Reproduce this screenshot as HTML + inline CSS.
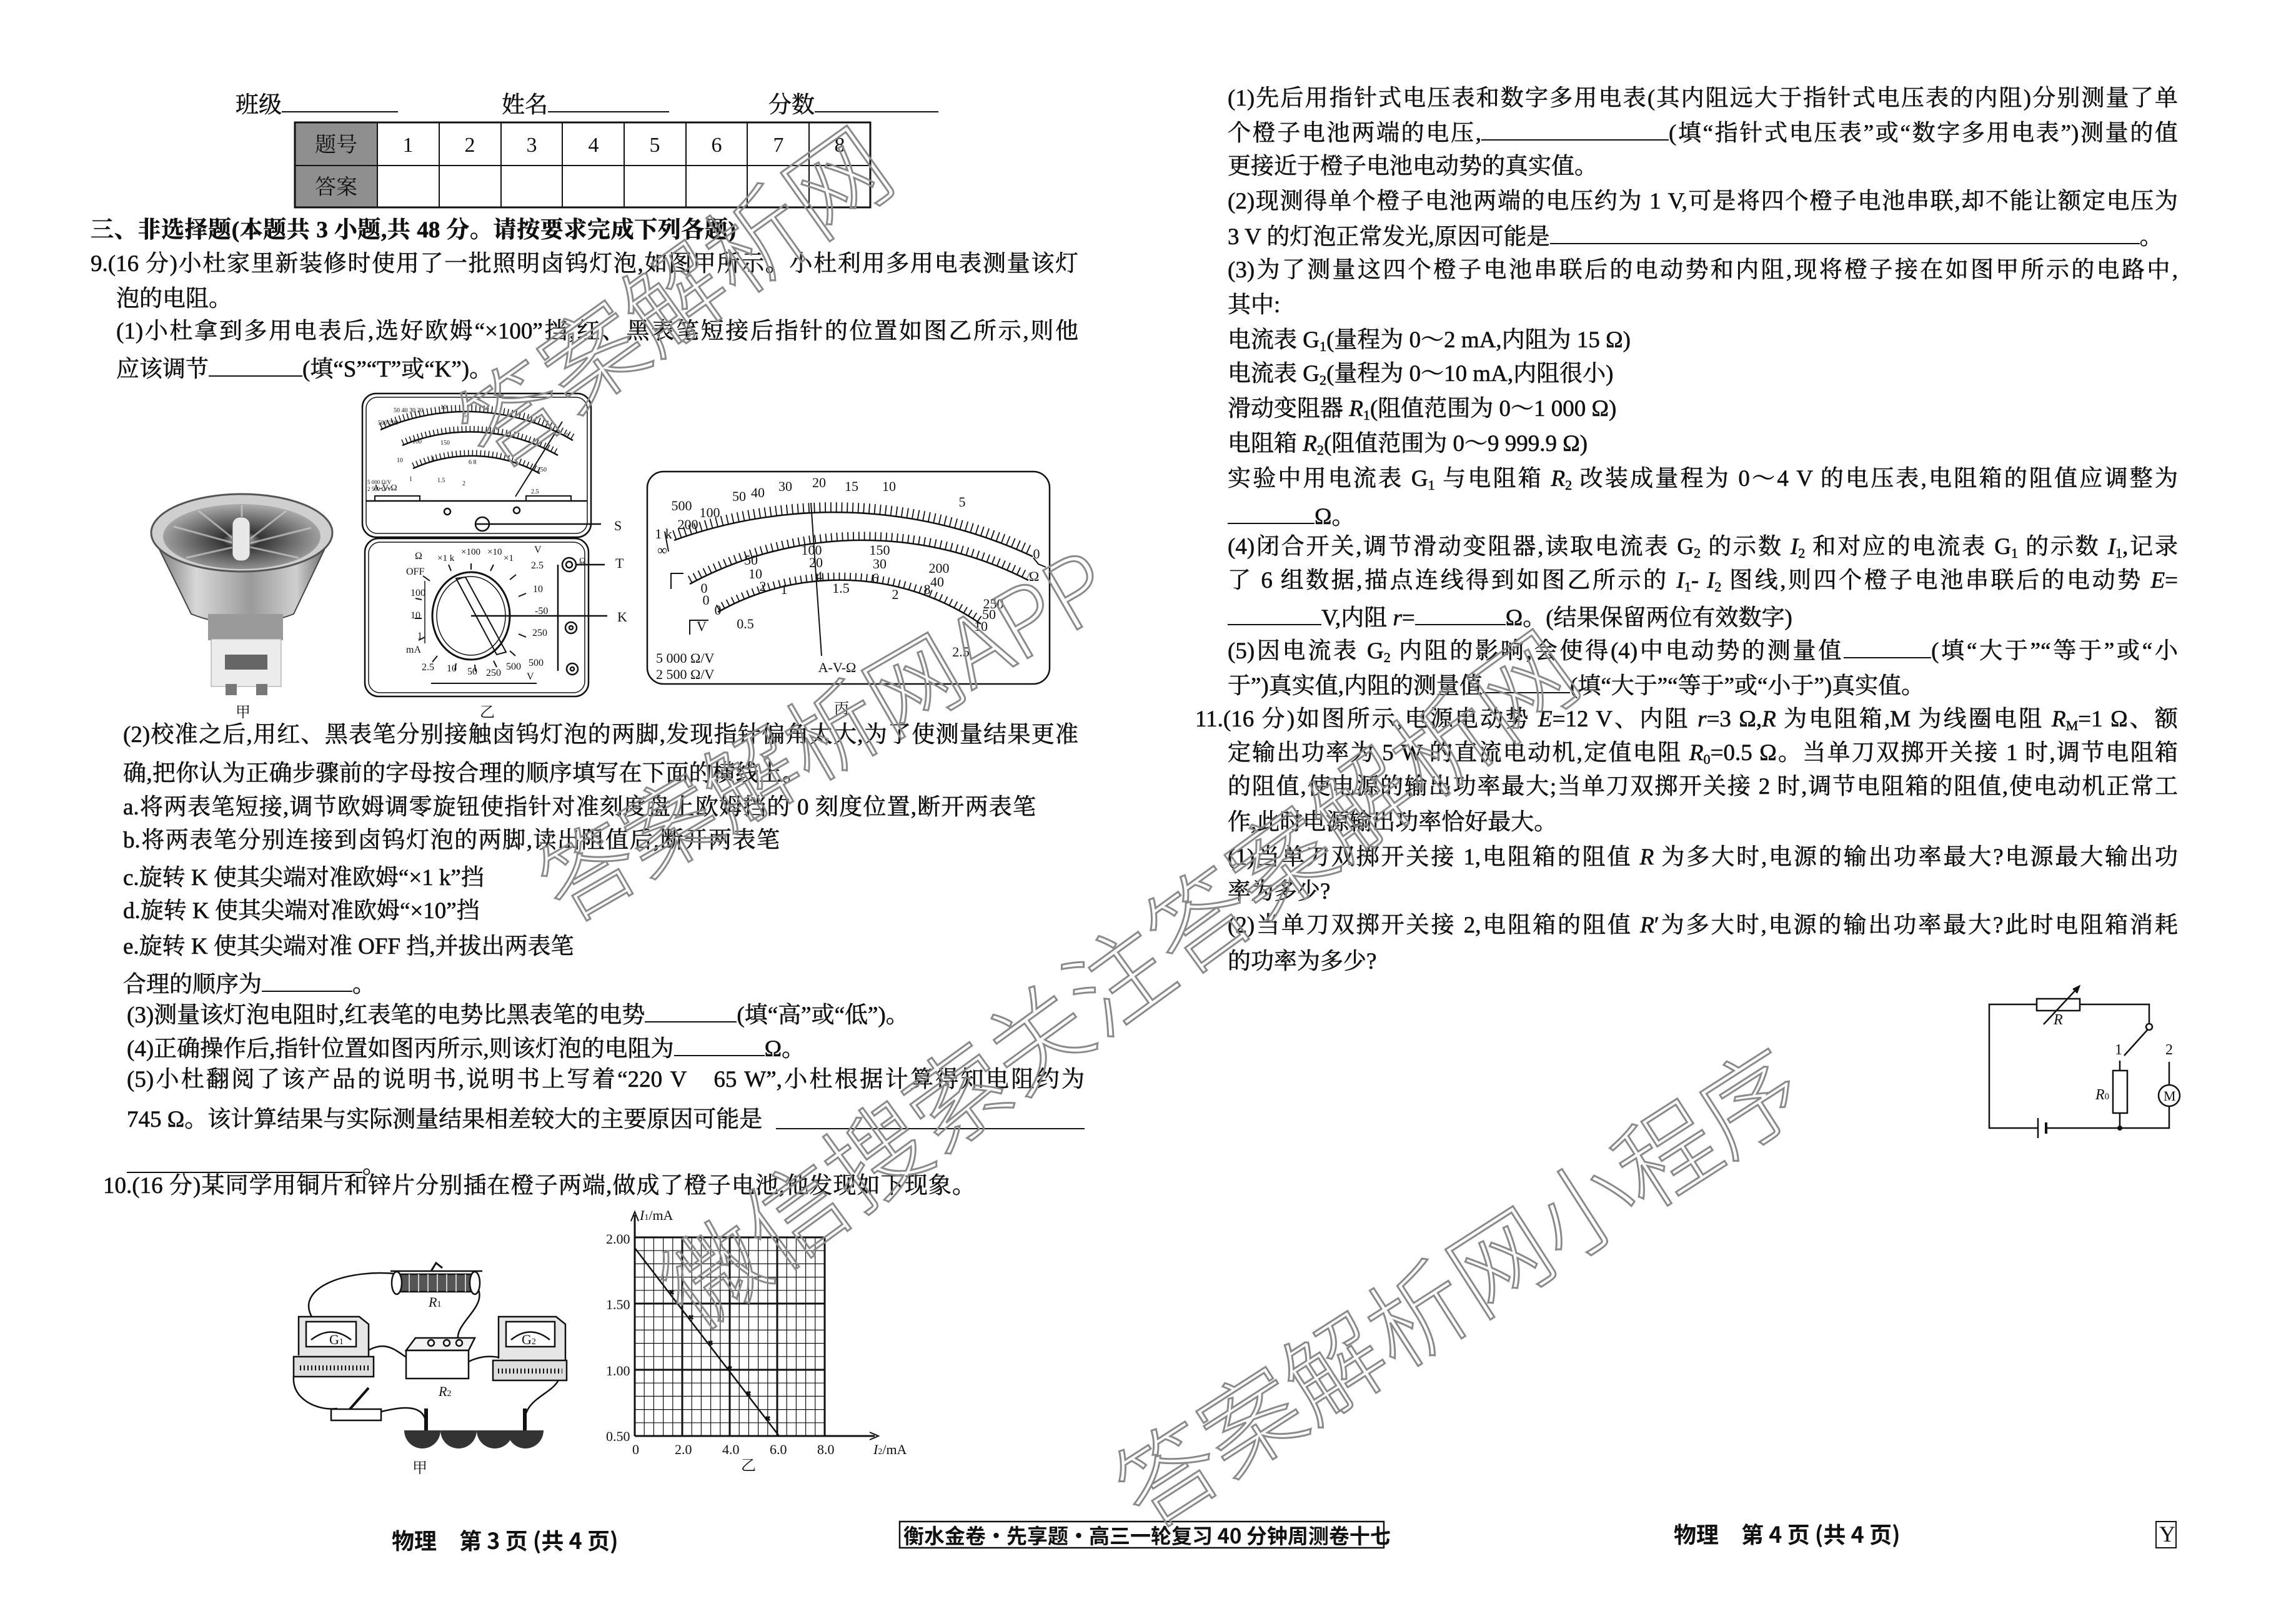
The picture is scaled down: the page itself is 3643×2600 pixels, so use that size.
<!DOCTYPE html>
<html><head><meta charset="utf-8">
<style>
body{margin:0;background:#fff;}
#p{position:relative;width:3643px;height:2600px;overflow:hidden;background:#fff;font-family:"Liberation Serif","Noto Serif CJK SC",serif;color:#111;}
.l{position:absolute;white-space:nowrap;font-size:37px;line-height:56px;height:56px;-webkit-text-stroke:0.6px #111;}
.j{text-align:justify;text-align-last:justify;white-space:normal;overflow:hidden;}
.b{display:inline-block;border-bottom:2px solid #111;height:40px;vertical-align:baseline;}
i{font-style:italic;}
sub{font-size:60%;vertical-align:-6px;line-height:0;}
.wm{position:absolute;white-space:nowrap;font-family:"Noto Sans CJK SC",sans-serif;font-weight:300;color:rgba(0,0,0,0);-webkit-text-stroke:3px #8a8a8a;line-height:1;}
.ft{position:absolute;font-family:"Noto Sans CJK SC",sans-serif;font-weight:bold;font-size:36px;line-height:44px;white-space:nowrap;}
svg text{font-family:"Liberation Serif","Noto Serif CJK SC",serif;fill:#111;}
</style></head><body><div id="p">

<div class="l" style="left:377px;top:138px;">班级<span class="b" style="width:186px"></span></div>
<div class="l" style="left:803px;top:138px;">姓名<span class="b" style="width:194px"></span></div>
<div class="l" style="left:1230px;top:138px;">分数<span class="b" style="width:198px"></span></div>

<svg style="position:absolute;left:0;top:0" width="3643" height="2600">
<rect x="472" y="196" width="132" height="136" fill="#8f8f8f"/>
<rect x="472" y="196" width="921" height="136" fill="none" stroke="#111" stroke-width="3"/>
<line x1="472" y1="265" x2="1393" y2="265" stroke="#111" stroke-width="2"/>
<g stroke="#111" stroke-width="2">
<line x1="604" y1="196" x2="604" y2="332"/><line x1="703" y1="196" x2="703" y2="332"/><line x1="802" y1="196" x2="802" y2="332"/><line x1="900" y1="196" x2="900" y2="332"/><line x1="999" y1="196" x2="999" y2="332"/><line x1="1098" y1="196" x2="1098" y2="332"/><line x1="1196" y1="196" x2="1196" y2="332"/><line x1="1295" y1="196" x2="1295" y2="332"/>
</g>
<g font-size="34" text-anchor="middle">
<text x="538" y="243">题号</text><text x="538" y="311">答案</text>
<text x="653" y="243">1</text><text x="752" y="243">2</text><text x="851" y="243">3</text><text x="950" y="243">4</text><text x="1048" y="243">5</text><text x="1147" y="243">6</text><text x="1246" y="243">7</text><text x="1344" y="243">8</text>
</g>

<defs>
<linearGradient id="lg" x1="0" x2="1"><stop offset="0" stop-color="#6a6a6a"/><stop offset="0.25" stop-color="#d8d8d8"/><stop offset="0.55" stop-color="#9a9a9a"/><stop offset="0.8" stop-color="#cfcfcf"/><stop offset="1" stop-color="#555"/></linearGradient>
<radialGradient id="rg" cx="0.5" cy="0.55" r="0.6"><stop offset="0" stop-color="#ddd"/><stop offset="0.2" stop-color="#333"/><stop offset="0.6" stop-color="#777"/><stop offset="1" stop-color="#bbb"/></radialGradient>
</defs>
<g transform="translate(238,783)">
<path d="M4,70 L68,200 Q150,232 232,200 L294,70 Z" fill="url(#lg)" stroke="#444" stroke-width="2"/>
<ellipse cx="149" cy="70" rx="145" ry="62" fill="#cfcfcf" stroke="#555" stroke-width="3"/>
<ellipse cx="149" cy="76" rx="126" ry="52" fill="url(#rg)"/>
<g stroke="#ccc" stroke-width="3" opacity="0.7">
<line x1="149" y1="90" x2="40" y2="60"/><line x1="149" y1="90" x2="80" y2="35"/><line x1="149" y1="90" x2="149" y2="26"/><line x1="149" y1="90" x2="220" y2="35"/><line x1="149" y1="90" x2="260" y2="62"/><line x1="149" y1="90" x2="60" y2="110"/><line x1="149" y1="90" x2="240" y2="110"/>
</g>
<rect x="134" y="45" width="28" height="70" rx="12" fill="#e8e8e8" stroke="#666"/>
<rect x="95" y="200" width="120" height="42" fill="#9a9a9a"/>
<rect x="100" y="240" width="112" height="76" fill="#ececec" stroke="#999"/>
<rect x="122" y="265" width="68" height="24" fill="#666"/>
<rect x="123" y="312" width="18" height="18" fill="#777"/><rect x="172" y="312" width="18" height="18" fill="#777"/>
</g>

<g transform="translate(580,630)" fill="none" stroke="#111" stroke-width="2.5">
<rect x="0" y="0" width="366" height="230" rx="22"/>
<rect x="6" y="6" width="354" height="218" rx="18" stroke-width="1.5"/>
<rect x="4" y="232" width="358" height="253" rx="22"/>
<rect x="10" y="238" width="346" height="241" rx="18" stroke-width="1.5"/>
<path d="M29,58 A339,339 0 0 1 337,75"/>
<path d="M29,52 A339,339 0 0 1 337,69" stroke-width="10" stroke-dasharray="1.5 5"/>
<path d="M64,83 A282,282 0 0 1 313,99"/>
<path d="M64,78 A282,282 0 0 1 313,94" stroke-width="9" stroke-dasharray="1.5 5"/>
<path d="M81,120 A227,227 0 0 1 284,128"/>
<path d="M81,115 A227,227 0 0 1 284,123" stroke-width="9" stroke-dasharray="1.5 5"/>
<line x1="245" y1="165" x2="320" y2="45" stroke-width="2"/>
<line x1="6" y1="172" x2="360" y2="172"/>
<rect x="20" y="164" width="72" height="8" stroke-width="2"/><rect x="262" y="164" width="72" height="8" stroke-width="2"/>
<circle cx="136" cy="189" r="5"/><circle cx="247" cy="187" r="5"/>
<ellipse cx="192" cy="209" rx="11" ry="11"/><line x1="180" y1="209" x2="382" y2="209"/>
<ellipse cx="174" cy="356" rx="62" ry="70" stroke-width="3"/>
<ellipse cx="174" cy="356" rx="55" ry="63" stroke-width="1.5"/>
<path d="M150,296 L165,294 L230,414 L215,418 Z" stroke-width="2"/>
<line x1="174" y1="356" x2="392" y2="356"/>
<g stroke-width="2">
<line x1="108" y1="300" x2="97" y2="292"/><line x1="95" y1="330" x2="85" y2="328"/><line x1="95" y1="360" x2="84" y2="360"/><line x1="100" y1="390" x2="90" y2="395"/>
<line x1="120" y1="420" x2="112" y2="430"/><line x1="150" y1="432" x2="148" y2="443"/><line x1="180" y1="434" x2="181" y2="445"/><line x1="210" y1="428" x2="215" y2="438"/><line x1="236" y1="412" x2="245" y2="420"/>
<line x1="250" y1="385" x2="262" y2="390"/><line x1="256" y1="356" x2="268" y2="356"/><line x1="250" y1="325" x2="262" y2="320"/><line x1="236" y1="298" x2="246" y2="290"/>
<line x1="205" y1="284" x2="210" y2="274"/><line x1="174" y1="282" x2="174" y2="272"/><line x1="142" y1="284" x2="138" y2="274"/>
</g>
<line x1="313" y1="274" x2="313" y2="444"/>
<circle cx="331" cy="274" r="11"/><circle cx="331" cy="274" r="5"/><line x1="342" y1="274" x2="388" y2="274"/>
<circle cx="334" cy="375" r="9"/><circle cx="334" cy="375" r="3"/>
<circle cx="336" cy="441" r="9"/><circle cx="336" cy="441" r="3"/>
<line x1="100" y1="300" x2="100" y2="400" stroke-width="1.5"/>
<line x1="110" y1="464" x2="279" y2="464" stroke-width="2"/>
</g>
<g font-size="14">
<text x="597" y="785">A-V-Ω</text>
<text x="588" y="775" font-size="9">5 000 Ω/V</text><text x="588" y="786" font-size="9">2 500 Ω/V</text>
<text x="605" y="680" font-size="10">500 200</text><text x="630" y="660" font-size="10">50 40 30 20</text><text x="705" y="655" font-size="10">10</text><text x="742" y="668" font-size="10">5</text><text x="905" y="700" font-size="10">0</text>
<text x="660" y="710" font-size="10">100</text><text x="705" y="712" font-size="10">150</text><text x="635" y="740" font-size="10">10</text><text x="690" y="738" font-size="10">4</text><text x="750" y="743" font-size="10">6 8</text>
<text x="655" y="770" font-size="10">1</text><text x="700" y="772" font-size="10">1.5</text><text x="740" y="777" font-size="10">2</text><text x="860" y="755" font-size="10">250</text><text x="850" y="790" font-size="10">2.5</text>
<text x="983" y="849" font-size="22">S</text><text x="985" y="909" font-size="22">T</text><text x="988" y="995" font-size="22">K</text>
<text x="664" y="895" font-size="16">Ω</text><text x="650" y="920" font-size="16">OFF</text>
<text x="700" y="898" font-size="15">×1 k</text><text x="738" y="888" font-size="15">×100</text><text x="780" y="888" font-size="15">×10</text><text x="806" y="898" font-size="15">×1</text>
<text x="855" y="885" font-size="16">V</text><text x="850" y="910" font-size="16">2.5</text>
<text x="853" y="948" font-size="16">10</text><text x="856" y="983" font-size="16">-50</text><text x="852" y="1018" font-size="16">250</text><text x="846" y="1066" font-size="16">500</text>
<text x="657" y="954" font-size="16">100</text><text x="657" y="990" font-size="16">10</text><text x="668" y="1023" font-size="16">1</text><text x="650" y="1045" font-size="16">mA</text>
<text x="675" y="1073" font-size="16">2.5</text><text x="715" y="1075" font-size="16">10</text><text x="748" y="1080" font-size="16">50</text><text x="778" y="1082" font-size="16">250</text><text x="810" y="1072" font-size="16">500</text><text x="843" y="1088" font-size="16">V</text>
<text x="927" y="902" font-size="14">Ω</text>
</g>

<g transform="translate(1034,753)" fill="none" stroke="#111" stroke-width="2.5">
<rect x="2" y="2" width="644" height="340" rx="26"/>
<path d="M45,112 A751,751 0 0 1 619,138"/>
<path d="M45,104 A751,751 0 0 1 619,130" stroke-width="16" stroke-dasharray="1.8 7"/>
<path d="M70,182 A581,581 0 0 1 612,176"/>
<path d="M70,175 A581,581 0 0 1 612,169" stroke-width="13" stroke-dasharray="1.8 7"/>
<path d="M115,227 A397,397 0 0 1 536,246"/>
<path d="M115,221 A397,397 0 0 1 536,240" stroke-width="12" stroke-dasharray="1.8 7"/>
<line x1="281" y1="297" x2="264" y2="52" stroke-width="2"/>
<path d="M36,130 L30,98 M620,140 L628,150 L640,155" stroke-width="2"/>
<path d="M40,190 L40,165 L60,165 M70,263 L70,240 L100,240" stroke-width="2"/>
</g>
<g font-size="22" text-anchor="middle">
<text x="1091" y="817">500</text><text x="1136" y="828">100</text><text x="1101" y="847">200</text><text x="1062" y="862">1 k</text><text x="1060" y="888">∞</text>
<text x="1183" y="802">50</text><text x="1213" y="796">40</text><text x="1257" y="786">30</text><text x="1311" y="780">20</text><text x="1363" y="786">15</text><text x="1423" y="786">10</text><text x="1540" y="811">5</text><text x="1659" y="894">0</text><text x="1655" y="930">Ω</text>
<text x="1202" y="904">50</text><text x="1209" y="926">10</text><text x="1299" y="888">100</text><text x="1306" y="908">20</text><text x="1311" y="930">4</text>
<text x="1408" y="888">150</text><text x="1408" y="910">30</text><text x="1401" y="933">6</text><text x="1503" y="917">200</text><text x="1500" y="939">40</text><text x="1484" y="951">8</text>
<text x="1590" y="974">250</text><text x="1583" y="991">50</text><text x="1570" y="1010">10</text><text x="1538" y="1051">2.5</text>
<text x="1127" y="949">0</text><text x="1130" y="968">0</text><text x="1149" y="984">0</text><text x="1221" y="946">2</text><text x="1193" y="1006">0.5</text><text x="1255" y="951">1</text><text x="1346" y="949">1.5</text><text x="1433" y="959">2</text>
<text x="1123" y="1010">V</text>
<text x="1340" y="1076">A-V-Ω</text>
</g>
<g font-size="22"><text x="1050" y="1061">5 000 Ω/V</text><text x="1050" y="1087">2 500 Ω/V</text></g>
<g font-size="24" text-anchor="middle"><text x="389" y="1148">甲</text><text x="780" y="1148">乙</text><text x="1347" y="1142">丙</text></g>

<g fill="none" stroke="#111" stroke-width="2.5">
<path d="M500,2110 C470,2060 560,2030 640,2040"/>
<path d="M760,2055 C790,2090 720,2120 735,2150"/>
<path d="M585,2165 C620,2140 640,2170 655,2175"/>
<path d="M750,2180 C770,2170 790,2170 805,2175"/>
<path d="M478,2180 C450,2230 500,2260 540,2255"/>
<path d="M610,2260 C650,2250 680,2250 682,2280"/>
<path d="M895,2185 C910,2230 840,2230 840,2275"/>
<rect x="635" y="2040" width="125" height="28" fill="#555"/>
<path d="M640,2040 L640,2068 M655,2040 L655,2068 M670,2040 L670,2068 M685,2040 L685,2068 M700,2040 L700,2068 M715,2040 L715,2068 M730,2040 L730,2068 M745,2040 L745,2068" stroke="#ccc" stroke-width="2"/>
<line x1="625" y1="2035" x2="772" y2="2035"/>
<path d="M690,2035 L698,2022 L708,2030" stroke-width="3"/>
<ellipse cx="635" cy="2054" rx="8" ry="18" fill="#fff"/><ellipse cx="760" cy="2054" rx="8" ry="18" fill="#fff"/>
<path d="M478,2170 L478,2108 L575,2108 L590,2120 L590,2180" fill="#e6e6e6"/>
<rect x="490" y="2116" width="80" height="40" fill="#fff"/><path d="M498,2145 Q530,2120 562,2145"/>
<rect x="470" y="2172" width="128" height="32" fill="#ddd"/>
<path d="M480,2190 L590,2190" stroke-dasharray="2 4" stroke-width="8"/>
<path d="M798,2175 L798,2108 L890,2108 L905,2120 L905,2185" fill="#e6e6e6"/>
<rect x="810" y="2116" width="78" height="40" fill="#fff"/><path d="M818,2145 Q849,2120 880,2145"/>
<rect x="789" y="2178" width="118" height="32" fill="#ddd"/>
<path d="M797,2195 L900,2195" stroke-dasharray="2 4" stroke-width="8"/>
<path d="M650,2162 L665,2142 L760,2142 L750,2162 Z" fill="#f2f2f2"/>
<rect x="650" y="2162" width="100" height="45" fill="#fff"/>
<circle cx="690" cy="2150" r="5" fill="#fff"/><circle cx="715" cy="2150" r="5" fill="#fff"/><circle cx="735" cy="2150" r="5" fill="#fff"/>
<rect x="530" y="2256" width="80" height="18" fill="#fff"/>
<line x1="560" y1="2256" x2="590" y2="2222" stroke-width="4"/>
<line x1="682" y1="2255" x2="682" y2="2290" stroke-width="6"/><line x1="840" y1="2255" x2="840" y2="2290" stroke-width="6"/>
</g>
<g fill="#333">
<path d="M647,2290 A29,29 0 0 0 705,2290 Z"/><path d="M705,2290 A29,29 0 0 0 763,2290 Z"/><path d="M763,2290 A29,29 0 0 0 821,2290 Z"/><path d="M812,2290 A29,29 0 0 0 870,2290 Z"/>
</g>
<g font-size="22"><text x="686" y="2092"><tspan font-style="italic">R</tspan><tspan font-size="14">1</tspan></text>
<text x="527" y="2152">G<tspan font-size="14">1</tspan></text><text x="835" y="2152">G<tspan font-size="14">2</tspan></text>
<text x="702" y="2235"><tspan font-style="italic">R</tspan><tspan font-size="14">2</tspan></text>
<text x="660" y="2358" font-size="24">甲</text></g>

<g stroke="#111">
<g stroke-width="1.2">
<path d="M1031.2,1981V2299M1046.4,1981V2299M1061.6,1981V2299M1076.8,1981V2299M1107.2,1981V2299M1122.4,1981V2299M1137.6,1981V2299M1152.8,1981V2299M1183.2,1981V2299M1198.4,1981V2299M1213.6,1981V2299M1228.8,1981V2299M1259.2,1981V2299M1274.4,1981V2299M1289.6,1981V2299M1304.8,1981V2299"/>
<path d="M1016,2002.2H1320M1016,2023.4H1320M1016,2044.6H1320M1016,2065.8H1320M1016,2108.2H1320M1016,2129.4H1320M1016,2150.6H1320M1016,2171.8H1320M1016,2214.2H1320M1016,2235.4H1320M1016,2256.6H1320M1016,2277.8H1320"/>
</g>
<g stroke-width="3">
<path d="M1092,1981V2299M1168,1981V2299M1244,1981V2299M1320,1981V2299"/>
<path d="M1016,1981H1320M1016,2087H1320M1016,2193H1320M1016,2299H1400"/>
<path d="M1016,2299V1945"/>
</g>
<path d="M1016,1998 L1247,2299" stroke-width="2.5"/>
<path d="M1010,1955 L1016,1940 L1022,1955 M1392,2293 L1406,2299 L1392,2305" fill="none" stroke-width="2"/>
<g stroke-width="3">
<path d="M1072,2066l6,6m0,-6l-6,6 M1103,2106l6,6m0,-6l-6,6 M1134,2147l6,6m0,-6l-6,6 M1165,2188l6,6m0,-6l-6,6 M1195,2228l6,6m0,-6l-6,6 M1226,2268l6,6m0,-6l-6,6"/>
</g>
</g>
<g font-size="22">
<text x="970" y="1991">2.00</text><text x="970" y="2096">1.50</text><text x="970" y="2202">1.00</text><text x="970" y="2307">0.50</text>
<text x="1012" y="2328">0</text><text x="1080" y="2328">2.0</text><text x="1156" y="2328">4.0</text><text x="1232" y="2328">6.0</text><text x="1308" y="2328">8.0</text>
<text x="1398" y="2328"><tspan font-style="italic">I</tspan><tspan font-size="14">2</tspan>/mA</text>
<text x="1024" y="1953"><tspan font-style="italic">I</tspan><tspan font-size="14">1</tspan>/mA</text>
<text x="1186" y="2354" font-size="24">乙</text></g>

<g fill="none" stroke="#111" stroke-width="2.5">
<path d="M3260,1608 H3184 V1806 H3262 M3275,1806 H3472 V1771"/>
<path d="M3329,1608 H3440 V1638"/>
<rect x="3260" y="1599" width="69" height="19" fill="#fff"/>
<line x1="3271" y1="1640" x2="3327" y2="1580"/><path d="M3318,1584 L3328,1579 L3324,1590" fill="#111"/>
<circle cx="3440" cy="1644" r="5" fill="#fff"/>
<line x1="3437" y1="1649" x2="3400" y2="1690"/>
<path d="M3393,1698 V1714 M3393,1782 V1806"/>
<rect x="3382" y="1714" width="23" height="68" fill="#fff"/>
<path d="M3472,1700 V1737"/>
<circle cx="3472" cy="1754" r="17" fill="#fff"/>
<line x1="3262" y1="1790" x2="3262" y2="1822" stroke-width="2.5"/><line x1="3275" y1="1797" x2="3275" y2="1815" stroke-width="4"/>
</g>
<circle cx="3393" cy="1806" r="4" fill="#111"/>
<g font-size="24"><text x="3287" y="1640" font-style="italic">R</text><text x="3385" y="1688">1</text><text x="3466" y="1688">2</text>
<text x="3354" y="1760"><tspan font-style="italic">R</tspan><tspan font-size="15">0</tspan></text><text x="3463" y="1762" font-size="22">M</text></g>

<rect x="1440" y="2436" width="775" height="42" fill="none" stroke="#111" stroke-width="2.5"/>
<rect x="3451" y="2436" width="32" height="42" fill="none" stroke="#111" stroke-width="2"/>
</svg>

<div class="l j" style="left:145px;top:341px;width:1033px;font-weight:bold;">三、非选择题(本题共 3 小题,共 48 分。请按要求完成下列各题)</div>
<div class="l j" style="left:145px;top:395px;width:1581px;">9.(16 分)小杜家里新装修时使用了一批照明卤钨灯泡,如图甲所示。小杜利用多用电表测量该灯</div>
<div class="l" style="left:186px;top:451px;">泡的电阻。</div>
<div class="l j" style="left:186px;top:503px;width:1540px;">(1)小杜拿到多用电表后,选好欧姆“×100”挡,红、黑表笔短接后指针的位置如图乙所示,则他</div>
<div class="l" style="left:186px;top:561px;">应该调节<span class="b" style="width:150px"></span>(填“S”“T”或“K”)。</div>
<div class="l j" style="left:197px;top:1149px;width:1529px;">(2)校准之后,用红、黑表笔分别接触卤钨灯泡的两脚,发现指针偏角太大,为了使测量结果更准</div>
<div class="l j" style="left:197px;top:1211px;width:1092px;">确,把你认为正确步骤前的字母按合理的顺序填写在下面的横线上。</div>
<div class="l j" style="left:197px;top:1265px;width:1461px;">a.将两表笔短接,调节欧姆调零旋钮使指针对准刻度盘上欧姆挡的 0 刻度位置,断开两表笔</div>
<div class="l j" style="left:197px;top:1318px;width:1051px;">b.将两表笔分别连接到卤钨灯泡的两脚,读出阻值后,断开两表笔</div>
<div class="l" style="left:197px;top:1378px;">c.旋转 K 使其尖端对准欧姆“×1 k”挡</div>
<div class="l" style="left:197px;top:1431px;">d.旋转 K 使其尖端对准欧姆“×10”挡</div>
<div class="l" style="left:197px;top:1488px;">e.旋转 K 使其尖端对准 OFF 挡,并拔出两表笔</div>
<div class="l" style="left:197px;top:1546px;">合理的顺序为<span class="b" style="width:145px"></span>。</div>
<div class="l" style="left:203px;top:1595px;">(3)测量该灯泡电阻时,红表笔的电势比黑表笔的电势<span class="b" style="width:147px"></span>(填“高”或“低”)。</div>
<div class="l" style="left:203px;top:1649px;">(4)正确操作后,指针位置如图丙所示,则该灯泡的电阻为<span class="b" style="width:145px"></span>Ω。</div>
<div class="l j" style="left:203px;top:1701px;width:1533px;">(5)小杜翻阅了该产品的说明书,说明书上写着“220 V　65 W”,小杜根据计算得知电阻约为</div>
<div class="l" style="left:203px;top:1765px;">745 Ω。该计算结果与实际测量结果相差较大的主要原因可能是</div>
<div style="position:absolute;left:1242px;top:1806px;width:494px;border-bottom:2px solid #111;"></div>
<div class="l" style="left:203px;top:1836px;"><span class="b" style="width:377px"></span>。</div>
<div class="l j" style="left:165px;top:1871px;width:1396px;">10.(16 分)某同学用铜片和锌片分别插在橙子两端,做成了橙子电池,他发现如下现象。</div>

<div class="l j" style="left:1965px;top:130px;width:1521px;">(1)先后用指针式电压表和数字多用电表(其内阻远大于指针式电压表的内阻)分别测量了单</div>
<div class="l j" style="left:1965px;top:183px;width:1521px;">个橙子电池两端的电压,<span class="b" style="width:300px"></span>(填“指针式电压表”或“数字多用电表”)测量的值</div>
<div class="l" style="left:1965px;top:239px;">更接近于橙子电池电动势的真实值。</div>
<div class="l j" style="left:1965px;top:295px;width:1521px;">(2)现测得单个橙子电池两端的电压约为 1 V,可是将四个橙子电池串联,却不能让额定电压为</div>
<div class="l" style="left:1965px;top:349px;">3 V 的灯泡正常发光,原因可能是<span class="b" style="width:944px"></span>。</div>
<div class="l j" style="left:1965px;top:405px;width:1521px;">(3)为了测量这四个橙子电池串联后的电动势和内阻,现将橙子接在如图甲所示的电路中,</div>
<div class="l" style="left:1965px;top:461px;">其中:</div>
<div class="l" style="left:1965px;top:517px;">电流表 G<sub>1</sub>(量程为 0～2 mA,内阻为 15 Ω)</div>
<div class="l" style="left:1965px;top:571px;">电流表 G<sub>2</sub>(量程为 0～10 mA,内阻很小)</div>
<div class="l" style="left:1965px;top:627px;">滑动变阻器 <i>R</i><sub>1</sub>(阻值范围为 0～1 000 Ω)</div>
<div class="l" style="left:1965px;top:683px;">电阻箱 <i>R</i><sub>2</sub>(阻值范围为 0～9 999.9 Ω)</div>
<div class="l j" style="left:1965px;top:739px;width:1521px;">实验中用电流表 G<sub>1</sub> 与电阻箱 <i>R</i><sub>2</sub> 改装成量程为 0～4 V 的电压表,电阻箱的阻值应调整为</div>
<div class="l" style="left:1965px;top:797px;"><span class="b" style="width:139px"></span>Ω。</div>
<div class="l j" style="left:1965px;top:848px;width:1521px;">(4)闭合开关,调节滑动变阻器,读取电流表 G<sub>2</sub> 的示数 <i>I</i><sub>2</sub> 和对应的电流表 G<sub>1</sub> 的示数 <i>I</i><sub>1</sub>,记录</div>
<div class="l j" style="left:1965px;top:902px;width:1521px;">了 6 组数据,描点连线得到如图乙所示的 <i>I</i><sub>1</sub>- <i>I</i><sub>2</sub> 图线,则四个橙子电池串联后的电动势 <i>E</i>=</div>
<div class="l" style="left:1965px;top:959px;"><span class="b" style="width:150px"></span>V,内阻 <i>r</i>=<span class="b" style="width:145px"></span>Ω。(结果保留两位有效数字)</div>
<div class="l j" style="left:1965px;top:1012px;width:1521px;">(5)因电流表 G<sub>2</sub> 内阻的影响,会使得(4)中电动势的测量值<span class="b" style="width:140px"></span>(填“大于”“等于”或“小</div>
<div class="l" style="left:1965px;top:1068px;">于”)真实值,内阻的测量值<span class="b" style="width:140px"></span>(填“大于”“等于”或“小于”)真实值。</div>
<div class="l j" style="left:1913px;top:1124px;width:1573px;">11.(16 分)如图所示,电源电动势 <i>E</i>=12 V、内阻 <i>r</i>=3 Ω,<i>R</i> 为电阻箱,M 为线圈电阻 <i>R</i><sub>M</sub>=1 Ω、额</div>
<div class="l j" style="left:1965px;top:1178px;width:1521px;">定输出功率为 5 W 的直流电动机,定值电阻 <i>R</i><sub>0</sub>=0.5 Ω。当单刀双掷开关接 1 时,调节电阻箱</div>
<div class="l j" style="left:1965px;top:1232px;width:1521px;">的阻值,使电源的输出功率最大;当单刀双掷开关接 2 时,调节电阻箱的阻值,使电动机正常工</div>
<div class="l" style="left:1965px;top:1289px;">作,此时电源输出功率恰好最大。</div>
<div class="l j" style="left:1965px;top:1345px;width:1521px;">(1)当单刀双掷开关接 1,电阻箱的阻值 <i>R</i> 为多大时,电源的输出功率最大?电源最大输出功</div>
<div class="l" style="left:1965px;top:1400px;">率为多少?</div>
<div class="l j" style="left:1965px;top:1454px;width:1521px;">(2)当单刀双掷开关接 2,电阻箱的阻值 <i>R</i>′为多大时,电源的输出功率最大?此时电阻箱消耗</div>
<div class="l" style="left:1965px;top:1512px;">的功率为多少?</div>

<div class="ft" style="left:627px;top:2443px;">物理　第 3 页 (共 4 页)</div>
<div class="ft" style="left:1446px;top:2435px;width:763px;text-align:justify;text-align-last:justify;font-size:33px;">衡水金卷·先享题·高三一轮复习 40 分钟周测卷十七</div>
<div class="ft" style="left:2679px;top:2433px;">物理　第 4 页 (共 4 页)</div>
<div class="ft" style="left:3456px;top:2434px;font-family:'Liberation Serif',serif;font-weight:normal;">Y</div>

<div class="wm" style="left:733px;top:575px;font-size:160px;transform-origin:80px 80px;transform:rotate(-35.5deg);">答案解析网</div>
<div class="wm" style="left:863px;top:1313px;font-size:150px;transform-origin:75px 75px;transform:rotate(-30deg);">答案解析网APP</div>
<div class="wm" style="left:1058px;top:1950px;font-size:160px;transform-origin:80px 80px;transform:rotate(-36deg);">微信搜索关注答案解析网</div>
<div class="wm" style="left:1786px;top:2273px;font-size:158px;transform-origin:80px 80px;transform:rotate(-32.7deg);">答案解析网小程序</div>

</div></body></html>
